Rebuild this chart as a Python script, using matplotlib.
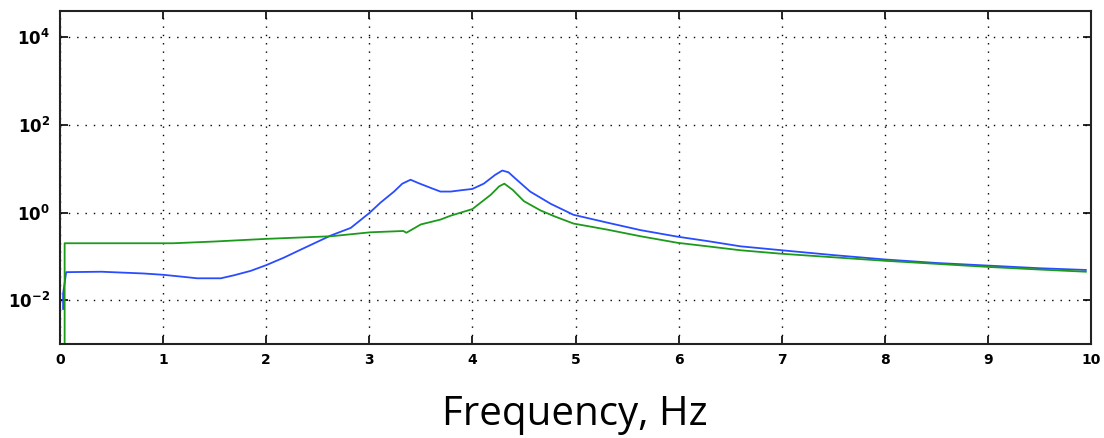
import numpy as np
import matplotlib
matplotlib.use("Agg")
import matplotlib.pyplot as plt

# Frequency (Hz) and log10 of magnitude
blue_freq = [0.03, 0.03, 0.06, 0.4, 0.81, 1.0, 1.17, 1.33, 1.56, 1.69, 1.85, 2.0, 2.17,
             2.34, 2.63, 2.82, 3.0, 3.11, 3.24, 3.32, 3.40, 3.48, 3.6, 3.69, 3.79,
             3.89, 4.0, 4.11, 4.22, 4.29, 4.35, 4.43, 4.56, 4.76, 4.98, 5.31, 5.63,
             5.99, 6.28, 6.6, 7.0, 7.5, 8.0, 8.5, 9.0, 9.5, 9.95]
blue_log10 = [-2.2, -1.85, -1.36, -1.35, -1.39, -1.42, -1.46, -1.5, -1.5, -1.43, -1.33,
              -1.2, -1.03, -0.84, -0.52, -0.35, -0.01, 0.23, 0.48, 0.66, 0.75, 0.67,
              0.56, 0.48, 0.48, 0.51, 0.54, 0.66, 0.86, 0.96, 0.92, 0.75, 0.48, 0.2,
              -0.05, -0.23, -0.40, -0.55, -0.65, -0.77, -0.86, -0.97, -1.07, -1.15,
              -1.21, -1.27, -1.31]

green_freq = [0.045, 0.045, 0.07, 1.1, 1.5, 2.0, 2.63, 3.01, 3.33, 3.36, 3.5, 3.69,
              3.79, 4.0, 4.18, 4.26, 4.31, 4.39, 4.5, 4.66, 4.79, 4.98, 5.31, 5.63,
              5.99, 6.28, 6.6, 7.0, 7.5, 8.0, 8.5, 9.0, 9.5, 9.95]
green_log10 = [-4.0, -0.70, -0.70, -0.70, -0.66, -0.60, -0.54, -0.45, -0.42, -0.46,
               -0.27, -0.16, -0.07, 0.08, 0.41, 0.60, 0.66, 0.52, 0.26, 0.05, -0.08,
               -0.25, -0.39, -0.54, -0.69, -0.77, -0.86, -0.94, -1.02, -1.1, -1.17,
               -1.24, -1.30, -1.35]

x_ticks = [0, 1, 2, 3, 4, 5, 6, 7, 8, 9, 10]
y_ticks = [1e-2, 1e0, 1e2, 1e4]
y_labels = [r'$\mathbf{10^{-2}}$', r'$\mathbf{10^{0}}$', r'$\mathbf{10^{2}}$', r'$\mathbf{10^{4}}$']

fig = plt.figure(figsize=(11.04, 4.38), dpi=100)
ax = fig.add_axes([60/1104, 94/438, (1091-60)/1104, (344-11)/438])

ax.plot(blue_freq, 10**np.array(blue_log10), color='#2a4cff', lw=1.3)
ax.plot(green_freq, 10**np.array(green_log10), color='#1c9a1c', lw=1.3)

ax.set_yscale('log')
ax.set_xlim(0, 10)
ax.set_ylim(1e-3, 4e4)
ax.set_xticks(x_ticks)
ax.set_xticklabels([str(t) for t in x_ticks], fontweight='bold', fontsize=10,
                   family='DejaVu Sans')
ax.set_yticks(y_ticks)
ax.set_yticklabels(y_labels, fontsize=12)
ax.yaxis.set_minor_locator(matplotlib.ticker.NullLocator())
ax.tick_params(direction='in', top=True, right=True, length=6, width=1.2)
ax.tick_params(axis='x', pad=6.5)
ax.tick_params(axis='y', pad=7)
ax.grid(True, color='black', linestyle=(0, (1, 5)), linewidth=1.0)
for s in ax.spines.values():
    s.set_linewidth(1.5)
    s.set_color('#222222')

fig.text(575/1104, 1 - 425/438, 'Frequency, Hz', ha='center', va='baseline',
         fontsize=29, family='Open Sans')

fig.savefig('out.png', dpi=100)
